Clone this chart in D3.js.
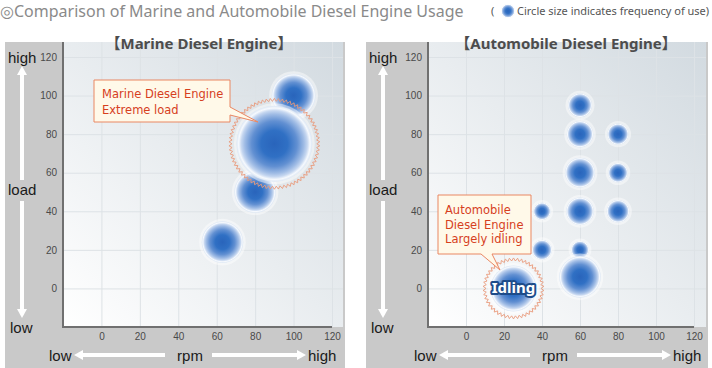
<!DOCTYPE html>
<html>
<head>
<meta charset="utf-8">
<script src="https://cdn.jsdelivr.net/npm/d3@7"></script>
<style>
  html, body { margin: 0; padding: 0; background: #fff; }
  svg { display: block; }
  .tick text { font-family: "Liberation Sans", Arial, sans-serif; font-size: 10px; fill: #4a4a4a; }
</style>
</head>
<body>
<svg id="chart" width="712" height="368"></svg>
<script>
  // Data
  const tickValues = [0, 20, 40, 60, 80, 100, 120];

  // Marine diesel engine: rpm, load, relative frequency of use
  const marineRpm = [100, 90, 80, 63];
  const marineLoad = [100, 75, 50, 24];
  const marineFreq = [30, 90, 27, 27];
  const marineHighlight = 1;

  // Automobile diesel engine
  const autoRpm = [60, 60, 60, 60, 60, 60, 80, 80, 80, 40, 40, 25];
  const autoLoad = [95, 80, 60, 40, 20, 6, 80, 60, 40, 40, 20, 0];
  const autoFreq = [9, 11, 14, 12, 5, 27, 7, 6, 8, 4.7, 6.3, 33];
  const autoHighlight = 11;

  const svg = d3.select('#chart');
  const defs = svg.append('defs');

  // Bubble gradient
  const bg = defs.append('radialGradient').attr('id', 'bubble');
  [[0, '#2964bb'], [0.35, '#3070c4'], [0.6, '#6290d2'], [0.78, '#a0bce5'],
   [0.87, '#c6d7f0'], [0.94, '#f6f9fd'], [1, '#dbe6f4']].forEach(s => {
    bg.append('stop').attr('offset', s[0]).attr('stop-color', s[1]);
  });

  // Plot background gradient
  const pg = defs.append('linearGradient').attr('id', 'plotbg')
    .attr('x1', 0).attr('y1', 1).attr('x2', 1).attr('y2', 0);
  pg.append('stop').attr('offset', 0).attr('stop-color', '#ffffff');
  pg.append('stop').attr('offset', 1).attr('stop-color', '#d2dae0');

  // Main title
  svg.append('text')
    .attr('x', 0).attr('y', 17.2)
    .attr('font-family', '"Noto Sans", sans-serif')
    .attr('font-size', 16)
    .attr('fill', '#8a8a8a')
    .text('◎Comparison of Marine and Automobile Diesel Engine Usage');

  // Legend note
  const note = svg.append('g');
  note.append('text')
    .attr('x', 491).attr('y', 15)
    .attr('font-family', '"Noto Sans", sans-serif').attr('font-size', 11).attr('fill', '#555')
    .text('(');
  note.append('circle').attr('cx', 508).attr('cy', 11).attr('r', 7).attr('fill', 'url(#bubble)')
    .attr('stroke', '#fff').attr('stroke-width', 1);
  note.append('text')
    .attr('x', 517).attr('y', 15)
    .attr('font-family', '"Noto Sans", sans-serif').attr('font-size', 11).attr('fill', '#555')
    .text('Circle size indicates frequency of use)');

  const r = d3.scaleSqrt().domain([0, 100]).range([0, 40]);

  function arrow(g, x1, y1, x2, y2) {
    // white arrow from (x1,y1) pointing to (x2,y2)
    const ang = Math.atan2(y2 - y1, x2 - x1);
    const hl = 9, hw = 5;
    const bx = x2 - hl * Math.cos(ang), by = y2 - hl * Math.sin(ang);
    g.append('line')
      .attr('x1', x1).attr('y1', y1).attr('x2', bx).attr('y2', by)
      .attr('stroke', '#fff').attr('stroke-width', 4);
    const px = -Math.sin(ang) * hw, py = Math.cos(ang) * hw;
    g.append('path')
      .attr('d', `M${x2},${y2}L${bx + px},${by + py}L${bx - px},${by - py}Z`)
      .attr('fill', '#fff');
  }

  function zigzag(cx, cy, rad, n) {
    const pts = d3.range(n * 2 + 1).map(i => {
      const a = (i / (n * 2)) * Math.PI * 2;
      const rr = rad + (i % 2 ? 1.5 : -1.5);
      return [cx + rr * Math.cos(a), cy + rr * Math.sin(a)];
    });
    return d3.line()(pts);
  }

  function drawPanel(p) {
    const g = svg.append('g');
    const lab = { 'font-family': '"Liberation Sans", Arial, sans-serif', 'font-size': 15, fill: '#1a1a1a' };
    const setAttrs = (sel, o) => { Object.keys(o).forEach(k => sel.attr(k, o[k])); return sel; };

    // gray frame and plot area
    g.append('rect').attr('x', p.frame[0]).attr('y', 42)
      .attr('width', p.frame[1] - p.frame[0]).attr('height', 326).attr('fill', '#c9c9c9');
    g.append('rect').attr('x', p.plot[0]).attr('y', 42)
      .attr('width', p.plot[1] - p.plot[0]).attr('height', 285).attr('fill', 'url(#plotbg)');

    const x = d3.scaleLinear().domain([-20, 120]).range([p.plot[0], p.xMax]);
    const y = d3.scaleLinear().domain([-20, 120]).range([327, 57]);

    // grid
    g.append('g').attr('transform', 'translate(0,327)')
      .call(d3.axisBottom(x).tickValues(tickValues).tickSize(-285).tickFormat(''))
      .call(s => s.select('.domain').remove())
      .call(s => s.selectAll('line').attr('stroke', '#dde2e6'));
    g.append('g').attr('transform', `translate(${p.plot[0]},0)`)
      .call(d3.axisLeft(y).tickValues(tickValues).tickSize(-(p.plot[1] - p.plot[0])).tickFormat(''))
      .call(s => s.select('.domain').remove())
      .call(s => s.selectAll('line').attr('stroke', '#dde2e6'));

    // axis lines
    g.append('path')
      .attr('d', `M${p.plot[0]},42V327H${p.xMax}`)
      .attr('fill', 'none').attr('stroke', '#707070').attr('stroke-width', 2);

    // tick labels
    g.append('g').attr('transform', `translate(${p.plot[0]},0)`)
      .call(d3.axisLeft(y).tickValues(tickValues).tickSize(0).tickPadding(6))
      .call(s => s.select('.domain').remove());
    g.append('g').attr('transform', 'translate(0,327)')
      .call(d3.axisBottom(x).tickValues(tickValues).tickSize(0).tickPadding(6))
      .call(s => s.select('.domain').remove());

    // panel title
    g.append('text')
      .attr('x', p.titleX).attr('y', 49).attr('text-anchor', 'middle')
      .attr('font-family', '"Noto Sans", "Noto Sans CJK JP", sans-serif')
      .attr('font-size', 15).attr('font-weight', 'bold').attr('fill', '#4d4d4d')
      .text(p.title);

    // axis words and arrows
    const a = p.frame[0];
    setAttrs(g.append('text').attr('x', a + 3).attr('y', 63), lab).text('high');
    setAttrs(g.append('text').attr('x', a + 3).attr('y', 195), lab).text('load');
    setAttrs(g.append('text').attr('x', a + 5).attr('y', 333), lab).text('low');
    arrow(g, a + 17, 180, a + 17, 66);
    arrow(g, a + 17, 201, a + 17, 318);
    const b = p.plot[0];
    setAttrs(g.append('text').attr('x', b - 14).attr('y', 361), lab).text('low');
    arrow(g, b + 102, 355, b + 11, 355);
    setAttrs(g.append('text').attr('x', b + 127).attr('y', 361).attr('text-anchor', 'middle'), lab).text('rpm');
    arrow(g, b + 149, 355, b + 243, 355);
    setAttrs(g.append('text').attr('x', b + 245).attr('y', 361), lab).text('high');

    // bubbles
    const data = p.rpm.map((v, i) => ({ rpm: v, load: p.load[i], f: p.freq[i], hl: i === p.highlight }))
      .sort((m, n) => m.f - n.f);
    const bub = g.append('g').selectAll('g').data(data).join('g')
      .attr('transform', d => `translate(${x(d.rpm)},${y(d.load)})`);
    bub.append('circle').attr('r', d => r(d.f) + 2.5).attr('fill', '#ffffff').attr('opacity', 0.45);
    bub.append('circle').attr('r', d => r(d.f)).attr('fill', 'url(#bubble)');
    bub.filter(d => d.hl).append('path')
      .attr('d', d => zigzag(0, 0, r(d.f) + 6, Math.round((r(d.f) + 6) * 1.6)))
      .attr('fill', 'none').attr('stroke', '#e99a7a').attr('stroke-width', 0.9);

    return { x, y, g };
  }

  const left = drawPanel({
    frame: [5, 345], plot: [63, 343], xMax: 332, titleX: 199,
    title: '【Marine Diesel Engine】',
    rpm: marineRpm, load: marineLoad, freq: marineFreq, highlight: marineHighlight
  });
  const right = drawPanel({
    frame: [366, 708], plot: [428, 706], xMax: 694, titleX: 566,
    title: '【Automobile Diesel Engine】',
    rpm: autoRpm, load: autoLoad, freq: autoFreq, highlight: autoHighlight
  });

  // callouts
  const calloutText = { 'font-family': '"DejaVu Sans", sans-serif', 'font-size': 11.5, fill: '#d6401e' };
  function callout(g, d, lines, tx, ty, lh) {
    g.append('path').attr('d', d).attr('fill', '#fff9e9').attr('stroke', '#e98763').attr('stroke-width', 1);
    lines.forEach((t, i) => {
      const s = g.append('text').attr('x', tx).attr('y', ty + i * lh);
      Object.keys(calloutText).forEach(k => s.attr(k, calloutText[k]));
      s.text(t);
    });
  }
  callout(left.g, 'M94,80H230V107L258,122L230,115V122H94Z',
    ['Marine Diesel Engine', 'Extreme load'], 102, 98, 16);
  callout(right.g, 'M438,195H531V254H492L500,270L481,254H438Z',
    ['Automobile', 'Diesel Engine', 'Largely idling'], 445, 214, 14.5);

  // Idling label
  right.g.append('text')
    .attr('x', right.x(autoRpm[autoHighlight])).attr('y', right.y(autoLoad[autoHighlight]) + 5)
    .attr('text-anchor', 'middle')
    .attr('font-family', '"Noto Sans", sans-serif').attr('font-size', 15).attr('font-weight', 'bold')
    .attr('fill', '#fff').attr('stroke', '#1d4c8a').attr('stroke-width', 4)
    .attr('stroke-linejoin', 'round').attr('paint-order', 'stroke')
    .text('Idling');
</script>
</body>
</html>
